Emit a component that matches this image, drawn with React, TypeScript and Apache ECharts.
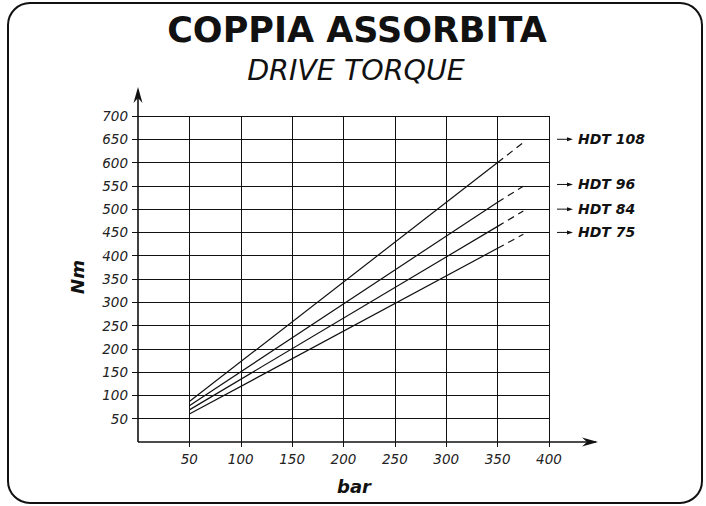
import React, { useEffect, useRef } from "react";
import * as echarts from "echarts";

// ---- data ----
const pressures = [50, 350, 375]; // bar: solid 50→350, dashed 350→375
const hdt108 = [87, 600, 643];
const hdt96 = [78, 515, 549];
const hdt84 = [69, 463, 496];
const hdt75 = [60, 416, 446];
const seriesNames = ["HDT 108", "HDT 96", "HDT 84", "HDT 75"];
const seriesValues = [hdt108, hdt96, hdt84, hdt75];
const labelLevels = [650, 553, 500, 450]; // Nm level of each right-hand label
const xTicks = [50, 100, 150, 200, 250, 300, 350, 400];
const yTicks = [50, 100, 150, 200, 250, 300, 350, 400, 450, 500, 550, 600, 650, 700];

const FONT = "DejaVu Sans";
const INK = "#111";

export default function App() {
  const ref = useRef<HTMLDivElement>(null);

  useEffect(() => {
    if (!ref.current) return;
    const chart = echarts.init(ref.current, null, { renderer: "svg" });
    const GL = 138, GT = 116, GW = 411, GH = 326;

    const series: any[] = [];
    seriesValues.forEach((vals, i) => {
      series.push({
        name: seriesNames[i],
        type: "line",
        data: [[pressures[0], vals[0]], [pressures[1], vals[1]]],
        symbol: "none",
        silent: true,
        clip: false,
        lineStyle: { color: INK, width: 1.2 },
      });
      series.push({
        name: seriesNames[i] + " ext",
        type: "line",
        data: [[pressures[1], vals[1]], [pressures[2], vals[2]]],
        symbol: "none",
        silent: true,
        clip: false,
        lineStyle: { color: INK, width: 1.2, type: [7, 5] },
      });
    });

    const labelStyle = {
      fontFamily: FONT,
      fontStyle: "italic",
      fontSize: 13.5,
      color: "#222",
    };

    chart.setOption({
      animation: false,
      backgroundColor: "#fff",
      grid: { left: GL, top: GT, width: GW, height: GH, containLabel: false },
      xAxis: {
        type: "value",
        min: 0,
        max: 400,
        interval: 50,
        axisLine: { show: false },
        axisTick: { show: true, length: 5, customValues: xTicks, lineStyle: { color: INK } },
        axisLabel: {
          ...labelStyle,
          margin: 10,
          customValues: xTicks,
          formatter: (v: number) => (v === 0 ? "" : String(v)),
        },
        splitLine: { show: true, lineStyle: { color: INK, width: 1 } },
      },
      yAxis: {
        type: "value",
        min: 0,
        max: 700,
        interval: 50,
        axisLine: { show: false },
        axisTick: { show: true, length: 6, customValues: yTicks, lineStyle: { color: INK } },
        axisLabel: {
          ...labelStyle,
          margin: 10,
          customValues: yTicks,
          formatter: (v: number) => (v === 0 ? "" : String(v)),
        },
        splitLine: { show: true, lineStyle: { color: INK, width: 1 } },
      },
      series,
    });

    const origin = chart.convertToPixel({ gridIndex: 0 }, [0, 0]) as number[];
    const ox = origin[0], oy = origin[1];
    const right = (chart.convertToPixel({ gridIndex: 0 }, [400, 0]) as number[])[0];

    const graphic: any[] = [
      {
        type: "rect",
        shape: { x: 8, y: 3, width: 694, height: 500, r: 22 },
        style: { fill: "none", stroke: INK, lineWidth: 2 },
        z: 100,
      },
      {
        type: "text",
        x: 357,
        y: 30,
        style: {
          text: "COPPIA ASSORBITA",
          fontFamily: FONT,
          fontWeight: "bold",
          fontSize: 35,
          fill: INK,
          align: "center",
          verticalAlign: "middle",
          textAlign: "center",
          textVerticalAlign: "middle",
        },
      },
      {
        type: "text",
        x: 356,
        y: 70,
        style: {
          text: "DRIVE TORQUE",
          fontFamily: FONT,
          fontStyle: "italic",
          fontSize: 28.5,
          fill: INK,
          align: "center",
          verticalAlign: "middle",
          textAlign: "center",
          textVerticalAlign: "middle",
        },
      },
      // y axis with arrow
      {
        type: "line",
        shape: { x1: ox, y1: oy, x2: ox, y2: 90 },
        style: { stroke: INK, lineWidth: 1.6 },
      },
      {
        type: "polygon",
        shape: { points: [[ox, 87], [ox - 4.5, 103], [ox, 98], [ox + 4.5, 103]] },
        style: { fill: INK },
      },
      // x axis with arrow
      {
        type: "line",
        shape: { x1: ox, y1: oy, x2: 596, y2: oy },
        style: { stroke: INK, lineWidth: 1.6 },
      },
      {
        type: "polygon",
        shape: { points: [[598, oy], [582, oy - 4.5], [587, oy], [582, oy + 4.5]] },
        style: { fill: INK },
      },
      {
        type: "text",
        x: 77,
        y: 277,
        rotation: Math.PI / 2,
        style: {
          text: "Nm",
          fontFamily: FONT,
          fontWeight: "bold",
          fontStyle: "italic",
          fontSize: 18,
          fill: INK,
          align: "center",
          verticalAlign: "middle",
          textAlign: "center",
          textVerticalAlign: "middle",
        },
      },
      {
        type: "text",
        x: 354,
        y: 486,
        style: {
          text: "bar",
          fontFamily: FONT,
          fontWeight: "bold",
          fontStyle: "italic",
          fontSize: 18,
          fill: INK,
          align: "center",
          verticalAlign: "middle",
          textAlign: "center",
          textVerticalAlign: "middle",
        },
      },
    ];

    seriesNames.forEach((name, i) => {
      const py = (chart.convertToPixel({ gridIndex: 0 }, [0, labelLevels[i]]) as number[])[1];
      const ax = right + 8;
      graphic.push({
        type: "line",
        shape: { x1: ax, y1: py, x2: ax + 13, y2: py },
        style: { stroke: INK, lineWidth: 1 },
      });
      graphic.push({
        type: "polygon",
        shape: { points: [[ax + 16, py], [ax + 10, py - 2], [ax + 10, py + 2]] },
        style: { fill: INK },
      });
      graphic.push({
        type: "text",
        x: ax + 21,
        y: py,
        style: {
          text: name,
          fontFamily: FONT,
          fontWeight: "bold",
          fontStyle: "italic",
          fontSize: 14,
          fill: INK,
          align: "left",
          verticalAlign: "middle",
          textAlign: "left",
          textVerticalAlign: "middle",
        },
      });
    });

    chart.setOption({ graphic });

    return () => chart.dispose();
  }, []);

  return (
    <div
      ref={ref}
      style={{ position: "fixed", left: 0, top: 0, width: 706, height: 506, background: "#fff" }}
    />
  );
}
